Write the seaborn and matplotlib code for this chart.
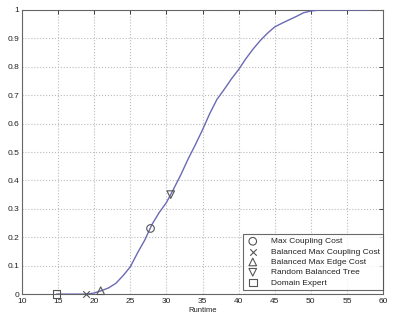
import matplotlib
matplotlib.use("Agg")
import matplotlib.pyplot as plt
import seaborn as sns
import pandas as pd

# CDF curve
runtime = [14.8, 19, 20, 21, 22, 23, 24, 25, 26, 27, 28, 29, 30, 31, 32, 33, 34, 35,
           36, 37, 38, 39, 40, 41, 42, 43, 44, 45, 46, 47, 48, 49, 50, 51, 52, 58.2]
cdf = [0, 0, 0.004, 0.012, 0.022, 0.038, 0.065, 0.096, 0.145, 0.19, 0.245, 0.287,
       0.322, 0.37, 0.42, 0.475, 0.525, 0.578, 0.635, 0.685, 0.72, 0.757, 0.79, 0.828,
       0.862, 0.892, 0.918, 0.94, 0.953, 0.965, 0.977, 0.99, 0.996, 0.999, 1.0, 1.0]

# Method markers
methods = ["Max Coupling Cost", "Balanced Max Coupling Cost", "Balanced Max Edge Cost",
           "Random Balanced Tree", "Domain Expert"]
method_x = [27.8, 18.8, 20.9, 30.6, 14.8]
method_y = [0.231, 0.0, 0.012, 0.35, 0.0]
method_markers = ["o", "x", "^", "v", "s"]

sns.set_style("white")
plt.rcParams['font.family'] = ['Liberation Sans', 'DejaVu Sans']

fig = plt.figure(figsize=(4.0, 3.19), dpi=100)
ax = fig.add_axes([0.055, 0.078, 0.9025, 0.891])

df = pd.DataFrame({"Runtime": runtime, "cdf": cdf})
sns.lineplot(data=df, x="Runtime", y="cdf", ax=ax, color="#6a6ab4", linewidth=1.0,
             estimator=None, sort=False, zorder=3)

mcol = "#555555"
for name, xv, yv, m in zip(methods, method_x, method_y, method_markers):
    if m == "x":
        sns.scatterplot(x=[xv], y=[yv], marker=m, s=22, color=mcol, linewidth=0.8,
                        label=name, ax=ax, zorder=5, clip_on=False)
    else:
        sns.scatterplot(x=[xv], y=[yv], marker=m, s=30, facecolor="none",
                        edgecolor=mcol, linewidth=0.8, label=name, ax=ax, zorder=5,
                        clip_on=False)

ax.set_xlim(10, 60)
ax.set_ylim(0, 1)
ax.set_xticks(range(10, 61, 5))
ax.set_yticks([i / 10 for i in range(11)])
ax.set_yticklabels(["0", "0.1", "0.2", "0.3", "0.4", "0.5", "0.6", "0.7", "0.8", "0.9", "1"])
ax.set_xlabel("Runtime", fontsize=5.5, color="#222222", labelpad=1)
ax.set_ylabel("")
ax.grid(True, linestyle=":", color="#bbbbbb", linewidth=0.8)
ax.tick_params(direction="in", length=3, width=0.6, labelsize=6, colors="#222222",
               top=True, right=True)
ax.tick_params(axis="x", pad=3)
ax.tick_params(axis="y", pad=2)
for sp in ax.spines.values():
    sp.set_color("#666666")
    sp.set_linewidth(0.8)
    sp.set_zorder(2)

leg = ax.legend(loc="lower right", bbox_to_anchor=(1.0, 0.014), borderaxespad=0,
                fontsize=6, frameon=True, fancybox=False, handletextpad=1.4,
                labelspacing=0.3, borderpad=0.4, handlelength=1.5)
leg.get_frame().set_edgecolor("#444444")
leg.get_frame().set_linewidth(0.8)
for t in leg.get_texts():
    t.set_color("#222222")

fig.savefig("out.png", dpi=100)
